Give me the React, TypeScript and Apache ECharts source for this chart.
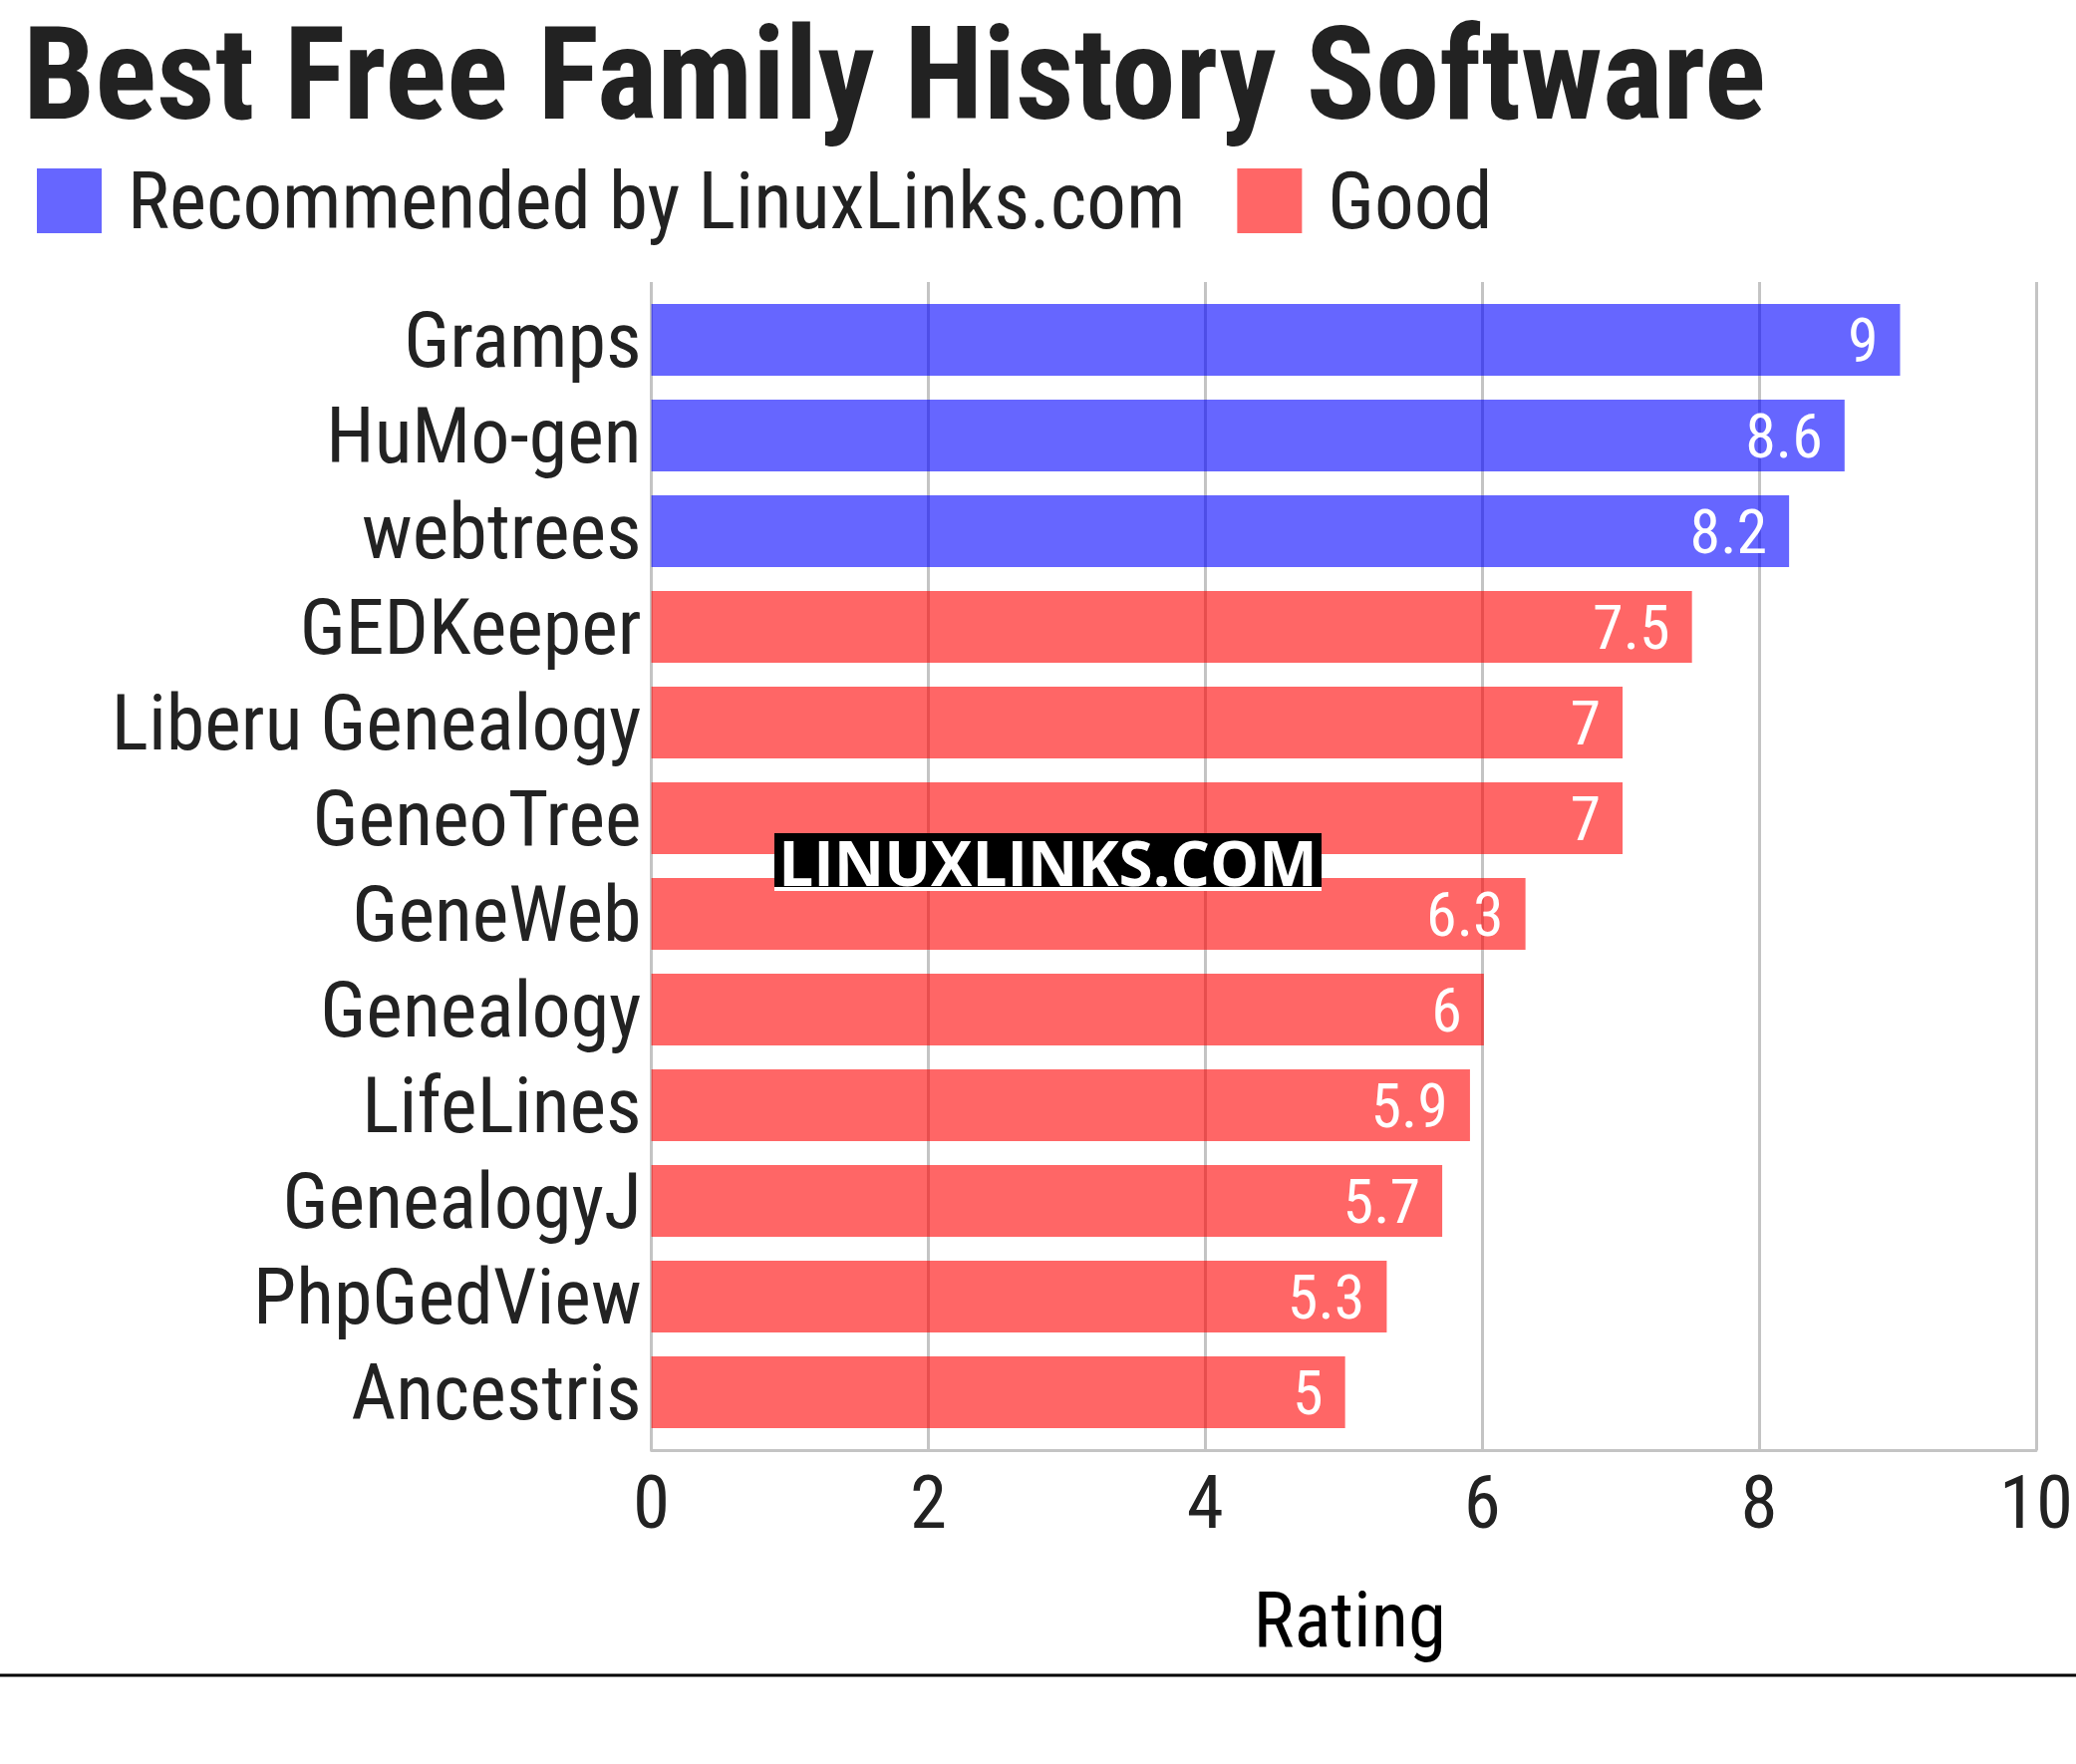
import React, { useEffect, useRef } from "react";
import * as echarts from "echarts";

const categories = [
  "Gramps",
  "HuMo-gen",
  "webtrees",
  "GEDKeeper",
  "Liberu Genealogy",
  "GeneoTree",
  "GeneWeb",
  "Genealogy",
  "LifeLines",
  "GenealogyJ",
  "PhpGedView",
  "Ancestris",
];
const ratings = [9, 8.6, 8.2, 7.5, 7, 7, 6.3, 6, 5.9, 5.7, 5.3, 5];
const recommended = [true, true, true, false, false, false, false, false, false, false, false, false];
const seriesNames = ["Recommended by LinuxLinks.com", "Good"];
const xTicks = [0, 2, 4, 6, 8, 10];

const FONT = "'Roboto Condensed', 'Liberation Sans Narrow', 'DejaVu Sans Condensed', sans-serif";

export default function App() {
  const ref = useRef<HTMLDivElement>(null);
  useEffect(() => {
    document.body.style.margin = "0";
    if (!ref.current) return;
    const chart = echarts.init(ref.current, null, { renderer: "svg" });
    const recData = ratings.map((v, i) => (recommended[i] ? v : "-"));
    const goodData = ratings.map((v, i) => (!recommended[i] ? v : "-"));
    const left = 653.6;
    const right = 2083 - 2045.7;
    const labelCfg = {
      show: true,
      position: "insideRight",
      distance: 22,
      color: "#ffffff",
      fontSize: 62,
      fontFamily: FONT,
    };
    chart.setOption({
      animation: false,
      backgroundColor: "#ffffff",
      title: {
        text: "Best Free Family History Software",
        left: 23,
        top: 10,
        padding: 0,
        textStyle: { fontSize: 129, lineHeight: 129, fontWeight: "bold", color: "#222222", fontFamily: FONT },
      },
      legend: {
        left: 37,
        top: 162,
        padding: 0,
        itemWidth: 65,
        itemHeight: 65,
        itemGap: 52,
        icon: "rect",
        data: seriesNames,
        textStyle: { fontSize: 79, color: "#222222", fontFamily: FONT, padding: [0, 0, 0, 21] },
      },
      grid: [
        { left, right, top: 283, bottom: 1770 - 1455 },
        { left, right, top: 293, bottom: 1770 - 1445 },
      ],
      xAxis: [
        {
          gridIndex: 0,
          type: "value",
          min: xTicks[0],
          max: xTicks[xTicks.length - 1],
          interval: 2,
          name: "Rating",
          nameLocation: "middle",
          nameGap: 132,
          nameTextStyle: { fontSize: 77, color: "#000000", fontFamily: FONT, padding: [0, 0, 0, 12] },
          axisLine: { show: true, lineStyle: { color: "#c4c4c4", width: 3 } },
          axisTick: { show: false },
          splitLine: { show: true, lineStyle: { color: "#c4c4c4", width: 3 } },
          axisLabel: { fontSize: 75, color: "#222222", fontFamily: FONT, margin: 14 },
        },
        {
          gridIndex: 1,
          type: "value",
          min: xTicks[0],
          max: xTicks[xTicks.length - 1],
          show: false,
        },
      ],
      yAxis: [
        {
          gridIndex: 0,
          type: "category",
          data: categories,
          inverse: true,
          show: false,
        },
        {
          gridIndex: 1,
          type: "category",
          data: categories,
          inverse: true,
          axisLine: { show: false },
          axisTick: { show: false },
          splitLine: { show: false },
          axisLabel: { interval: 0, fontSize: 78, color: "#222222", fontFamily: FONT, margin: 10 },
        },
      ],
      series: [
        {
          name: seriesNames[0],
          type: "bar",
          xAxisIndex: 1,
          yAxisIndex: 1,
          data: recData,
          barWidth: 72,
          barGap: "-100%",
          itemStyle: { color: "rgba(0,0,255,0.6)" },
          label: labelCfg,
        },
        {
          name: seriesNames[1],
          type: "bar",
          xAxisIndex: 1,
          yAxisIndex: 1,
          data: goodData,
          barWidth: 72,
          barGap: "-100%",
          itemStyle: { color: "rgba(255,0,0,0.6)" },
          label: labelCfg,
        },
      ],
      graphic: [
        {
          type: "line",
          shape: { x1: 0, y1: 1681, x2: 2083, y2: 1681 },
          style: { stroke: "#000000", lineWidth: 3 },
          z: 10,
        },
        {
          type: "rect",
          shape: { x: 777, y: 836, width: 549, height: 54 },
          style: { fill: "#000000" },
          z: 20,
        },
        {
          type: "rect",
          shape: { x: 777, y: 890, width: 549, height: 4 },
          style: { fill: "#ffffff" },
          z: 20,
        },
        {
          type: "text",
          x: 1051.5,
          y: 865,
          style: {
            text: "LINUXLINKS.COM",
            fill: "#ffffff",
            fontSize: 62,
            fontWeight: "bold",
            fontFamily: "'Open Sans', 'DejaVu Sans', sans-serif",
            align: "center",
            verticalAlign: "middle",
          },
          z: 21,
        },
      ],
    });
    return () => chart.dispose();
  }, []);
  return <div ref={ref} style={{ width: 2083, height: 1770 }} />;
}
